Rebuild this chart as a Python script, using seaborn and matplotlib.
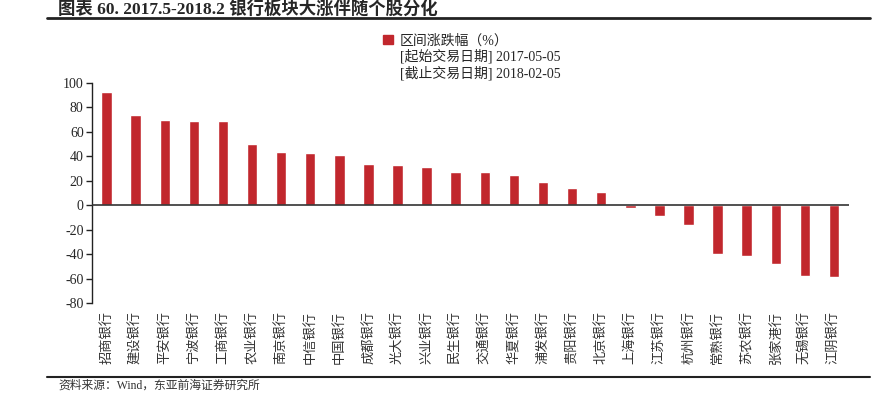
import matplotlib
matplotlib.use('Agg')
import matplotlib.pyplot as plt
import matplotlib.lines as mlines
import matplotlib.patches as mpatches
import seaborn as sns
import pandas as pd

# data
banks = ['招商银行', '建设银行', '平安银行', '宁波银行', '工商银行', '农业银行',
         '南京银行', '中信银行', '中国银行', '成都银行', '光大银行', '兴业银行',
         '民生银行', '交通银行', '华夏银行', '浦发银行', '贵阳银行', '北京银行',
         '上海银行', '江苏银行', '杭州银行', '常熟银行', '苏农银行', '张家港行',
         '无锡银行', '江阴银行']
change = [92.5, 74.0, 69.5, 69.0, 69.0, 50.5, 43.5, 43.0, 41.0, 33.5, 33.0, 31.5,
          27.0, 27.0, 25.0, 18.7, 14.0, 10.7, -2.5, -8.5, -16.0, -40.0, -41.5,
          -48.0, -58.0, -58.5]
yticks = [-80, -60, -40, -20, 0, 20, 40, 60, 80, 100]

title = '图表 60. 2017.5-2018.2 银行板块大涨伴随个股分化'
legend_lines = ['区间涨跌幅（%）', '[起始交易日期] 2017-05-05', '[截止交易日期] 2018-02-05']
source = '资料来源：Wind，东亚前海证券研究所'

sns.set_theme(style='white')
plt.rcParams['font.family'] = ['Liberation Serif', 'Noto Sans CJK SC', 'DejaVu Sans']
plt.rcParams['axes.unicode_minus'] = False

df = pd.DataFrame({'bank': banks, 'change': change})
bar_color = '#C1272D'

fig = plt.figure(figsize=(8.89, 4.07), dpi=100)
ax = fig.add_axes([92 / 889, 1 - 303 / 407, (848.5 - 92) / 889, 220 / 407])

sns.barplot(data=df, x='bank', y='change', color=bar_color, width=0.36,
            saturation=1, ax=ax)

ax.set_xlim(-0.5, len(banks) - 0.5)
ax.set_ylim(-80, 100)
ax.set_yticks(yticks)
ax.set_xlabel('')
ax.set_ylabel('')
ax.axhline(0, color='#333333', lw=1.2, zorder=3)

for s in ['top', 'right', 'bottom']:
    ax.spines[s].set_visible(False)
ax.spines['left'].set_color('#222222')
ax.spines['left'].set_linewidth(1.0)
ax.tick_params(axis='y', direction='out', length=4, width=1, color='#222222',
               labelsize=10, pad=2, left=True)
ax.tick_params(axis='x', length=0, labelsize=9.5, pad=6)
for lab in ax.get_xticklabels():
    lab.set_rotation(90)
    lab.set_family(['Noto Sans CJK SC'])
    lab.set_color('#333333')

# legend: one bar handle plus two text-only lines
h = mpatches.Patch(color=bar_color)
blank = mpatches.Patch(color='none')
fig.legend([h, blank, blank], legend_lines, loc='upper left',
           bbox_to_anchor=(376 / 889, 1 - 27 / 407), frameon=False,
           fontsize=10, handlelength=0.7, handleheight=0.7, handletextpad=0.5,
           labelspacing=0.15, borderpad=0)

# header and footer
fig.text(58 / 889, 1 - 9 / 407, title, fontsize=12.5, fontweight='bold',
         va='center', ha='left')
fig.add_artist(mlines.Line2D([47 / 889, 870 / 889], [1 - 18 / 407] * 2,
                             color='#222222', lw=2))
fig.add_artist(mlines.Line2D([47 / 889, 870 / 889], [1 - 377 / 407] * 2,
                             color='#222222', lw=1.5))
fig.text(58 / 889, 1 - 386 / 407, source, fontsize=8.5, va='center', ha='left',
         color='#333333')

fig.savefig('out.png', dpi=100)
